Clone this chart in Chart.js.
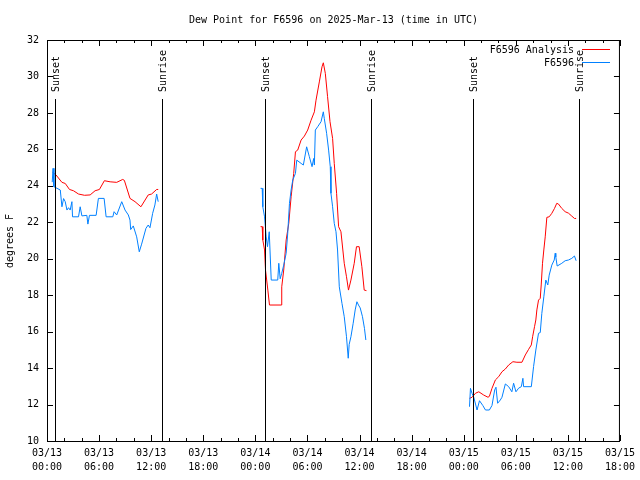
<!DOCTYPE html>
<html lang="en">
<head>
<meta charset="UTF-8">
<title>Dew Point for F6596</title>
<script src="https://cdn.jsdelivr.net/npm/chart.js"></script>
<style>
    body { margin: 0; background: #fff; }
    canvas { display: block; }
</style>
</head>
<body>
<canvas id="dewChart" width="640" height="480"></canvas>
<script>
// hours since 03/13 00:00 UTC; null dew point = gap in the line
const anaHours = [0.64, 1.03, 1.72, 2.10, 2.59, 3.05, 3.63, 4.32, 4.97, 5.54, 6.04, 6.61, 7.27, 8.03, 8.72, 8.91, 9.56, 10.14, 10.82, 11.66, 12.05, 12.63, 12.81,
    18,
    24.60, 24.79, 24.86, 25.06, 25.17, 25.44, 25.63, 26.97, 27.04, 27.27, 27.55, 27.85, 28.12, 28.42, 28.62, 28.88, 29.27, 29.65, 30.03, 30.42, 30.80, 30.99, 31.37, 31.68, 31.83, 32.06, 32.32, 32.60, 32.90, 33.09, 33.36, 33.59, 33.86, 34.24, 34.50, 34.73, 35.01, 35.39, 35.65, 35.96, 36.27, 36.54, 36.80,
    42,
    48.67, 48.97, 49.36, 49.74, 50.31, 50.80, 50.96, 51.26, 51.65, 52.03, 52.41, 52.80, 53.18, 53.67, 54.13, 54.71, 55.10, 55.48, 55.79, 55.94, 56.16, 56.31, 56.43, 56.62, 56.82, 56.93, 57.08, 57.23, 57.39, 57.58, 57.85, 58.15, 58.46, 58.72, 58.92, 59.30, 59.69, 60.07, 60.45, 60.76, 60.95];
const anaDew = [24.74, 24.6, 24.19, 24.13, 23.8, 23.73, 23.55, 23.48, 23.5, 23.73, 23.8, 24.28, 24.22, 24.19, 24.35, 24.3, 23.31, 23.13, 22.85, 23.5, 23.55, 23.8, 23.8,
    null,
    21.76, 21.76, 21.03, 20.48, 19.38, 18.28, 17.46, 17.46, 18.46, 19.38, 21.03, 21.94, 23.4, 24.68, 25.87, 25.96, 26.51, 26.73, 27.06, 27.6, 28.06, 28.7, 29.7, 30.53, 30.75, 30.17, 28.89, 27.52, 26.6, 25.23, 23.59, 21.76, 21.48, 19.75, 19.01, 18.28, 18.83, 19.75, 20.66, 20.66, 19.56, 18.28, 18.25,
    null,
    12.34, 12.4, 12.62, 12.7, 12.52, 12.4, 12.45, 12.89, 13.35, 13.53, 13.8, 13.95, 14.17, 14.35, 14.32, 14.32, 14.72, 15.03, 15.27, 15.72, 16.27, 16.64, 17.19, 17.73, 17.83, 18.56, 19.75, 20.48, 21.2, 22.27, 22.3, 22.49, 22.76, 23.04, 23.0, 22.76, 22.58, 22.5, 22.34, 22.21, 22.21];

const obsHours = [0.60, 0.70, 0.80, 1.53, 1.72, 1.91, 2.10, 2.30, 2.48, 2.67, 2.87, 2.94, 3.63, 3.82, 4.02, 4.59, 4.71, 4.89, 5.66, 5.92, 6.58, 6.81, 7.58, 7.73, 8.03, 8.61, 8.99, 9.37, 9.56, 9.64, 9.94, 10.33, 10.63, 10.90, 11.40, 11.66, 11.86, 12.17, 12.43, 12.63, 12.81,
    18,
    24.60, 24.79, 24.86, 25.06, 25.25, 25.40, 25.60, 25.83, 26.58, 26.70, 26.86, 27.04, 27.27, 27.55, 27.73, 27.93, 28.12, 28.31, 28.62, 28.77, 29.27, 29.53, 29.91, 30.22, 30.53, 30.72, 30.80, 30.91, 31.18, 31.57, 31.83, 31.94, 32.21, 32.44, 32.63, 32.71, 32.90, 33.09, 33.29, 33.47, 33.67, 33.98, 34.24, 34.50, 34.70, 34.81, 35.01, 35.27, 35.50, 35.70, 35.88, 36.08, 36.34, 36.57, 36.73,
    42,
    48.67, 48.78, 48.97, 49.16, 49.54, 49.82, 50.20, 50.51, 50.96, 51.26, 51.57, 51.72, 51.91, 52.22, 52.41, 52.80, 53.18, 53.55, 53.75, 54.02, 54.33, 54.64, 54.82, 54.90, 55.79, 56.05, 56.31, 56.62, 56.82, 57.00, 57.23, 57.46, 57.69, 57.85, 58.15, 58.43, 58.54, 58.61, 58.77, 59.30, 59.69, 60.07, 60.45, 60.76, 60.95];
const obsDew = [24.2, 24.96, 23.95, 23.77, 22.85, 23.3, 23.13, 22.67, 22.8, 22.67, 23.13, 22.3, 22.3, 22.85, 22.35, 22.38, 21.9, 22.38, 22.38, 23.31, 23.31, 22.3, 22.3, 22.58, 22.4, 23.13, 22.67, 22.4, 22.12, 21.6, 21.8, 21.2, 20.38, 20.8, 21.67, 21.85, 21.7, 22.49, 22.95, 23.55, 23.13,
    null,
    23.86, 23.86, 22.85, 22.3, 21.2, 20.66, 21.48, 18.83, 18.83, 19.75, 18.9, 19.2, 19.65, 20.3, 21.39, 23.04, 23.77, 24.32, 24.68, 25.41, 25.23, 25.14, 26.14, 25.6, 25.05, 25.5, 25.14, 27.06, 27.24, 27.52, 28.06, 27.7, 26.88, 25.96, 25.05, 23.59, 22.85, 21.94, 21.48, 20.48, 18.46, 17.55, 16.82, 15.72, 14.54, 15.3, 15.72, 16.46, 17.19, 17.64, 17.46, 17.3, 16.82, 16.18, 15.54,
    null,
    11.88, 12.89, 12.6, 12.4, 11.7, 12.21, 11.95, 11.7, 11.7, 11.95, 12.8, 12.95, 12.07, 12.25, 12.4, 13.13, 12.98, 12.7, 13.17, 12.7, 12.9, 12.98, 13.44, 12.98, 12.98, 14.08, 14.99, 15.91, 15.95, 17.0, 17.91, 18.83, 18.56, 19.1, 19.65, 19.93, 20.3, 20.1, 19.6, 19.75, 19.89, 19.93, 20.02, 20.15, 19.89];

const sunsetHours = [0.95, 25.1, 49.12];
const sunriseHours = [13.27, 37.3, 61.25];

const xTickDates = ['03/13', '03/13', '03/13', '03/13', '03/14', '03/14', '03/14', '03/14', '03/15', '03/15', '03/15', '03/15'];
const xTickTimes = ['00:00', '06:00', '12:00', '18:00', '00:00', '06:00', '12:00', '18:00', '00:00', '06:00', '12:00', '18:00'];

const FONT = '10px "DejaVu Sans Mono", monospace';

function toPoints(hours, vals) {
    return hours.map((h, i) => ({ x: h, y: vals[i] }));
}

// frame, inward ticks, title, legend, sun lines
const gnuplotLook = {
    id: 'gnuplotLook',
    afterDatasetsDraw(chart) {
        const ctx = chart.ctx;
        const a = chart.chartArea;
        const xs = chart.scales.x;
        const ys = chart.scales.y;
        ctx.save();
        ctx.strokeStyle = '#000';
        ctx.fillStyle = '#000';
        ctx.lineWidth = 1;
        ctx.font = FONT;

        // sunset / sunrise markers
        const marks = sunsetHours.map(h => [h, 'Sunset']).concat(sunriseHours.map(h => [h, 'Sunrise']));
        marks.forEach(([h, txt]) => {
            const px = Math.round(xs.getPixelForValue(h)) + 0.5;
            ctx.beginPath();
            ctx.moveTo(px, 99);
            ctx.lineTo(px, a.bottom);
            ctx.stroke();
            ctx.save();
            ctx.translate(px + 1, 92);
            ctx.rotate(-Math.PI / 2);
            ctx.textAlign = 'left';
            ctx.textBaseline = 'middle';
            ctx.fillText(txt, 0, 0);
            ctx.restore();
        });

        // border
        ctx.strokeRect(a.left + 0.5, a.top + 0.5, a.right - a.left - 1, a.bottom - a.top);

        // x ticks: major every 6h, minor every 2h
        ctx.beginPath();
        for (let h = 0; h <= 66; h += 2) {
            const px = Math.round(xs.getPixelForValue(h)) + 0.5;
            const len = h % 6 === 0 ? 6 : 3;
            ctx.moveTo(px, a.bottom);
            ctx.lineTo(px, a.bottom - len);
            ctx.moveTo(px, a.top);
            ctx.lineTo(px, a.top + len);
        }
        ys.ticks.forEach(t => {
            const py = Math.round(ys.getPixelForValue(t.value)) + 0.5;
            ctx.moveTo(a.left, py);
            ctx.lineTo(a.left + 6, py);
            ctx.moveTo(a.right, py);
            ctx.lineTo(a.right - 6, py);
        });
        ctx.stroke();

        // title
        ctx.textAlign = 'center';
        ctx.textBaseline = 'middle';
        ctx.fillText('Dew Point for F6596 on 2025-Mar-13 (time in UTC)', (a.left + a.right) / 2, 20);

        // y axis label
        ctx.save();
        ctx.translate(10, 241);
        ctx.rotate(-Math.PI / 2);
        ctx.fillText('degrees F', 0, 0);
        ctx.restore();

        // legend
        ctx.textAlign = 'right';
        chart.data.datasets.forEach((ds, i) => {
            const y = 50 + i * 13;
            ctx.fillStyle = '#000';
            ctx.fillText(ds.label, 574, y);
            ctx.strokeStyle = ds.borderColor;
            ctx.beginPath();
            ctx.moveTo(582, Math.round(y) - 0.5);
            ctx.lineTo(610, Math.round(y) - 0.5);
            ctx.stroke();
        });
        ctx.restore();
    }
};

new Chart(document.getElementById('dewChart'), {
    type: 'line',
    data: {
        datasets: [{
            label: 'F6596 Analysis',
            data: toPoints(anaHours, anaDew),
            borderColor: '#ff0000',
            borderWidth: 1,
            pointRadius: 0,
            tension: 0,
            spanGaps: false,
            order: 2
        }, {
            label: 'F6596',
            data: toPoints(obsHours, obsDew),
            borderColor: '#0080ff',
            borderWidth: 1,
            pointRadius: 0,
            tension: 0,
            spanGaps: false,
            order: 1
        }]
    },
    options: {
        responsive: false,
        animation: false,
        layout: { padding: { top: 40, right: 19, bottom: 0, left: 0 } },
        plugins: {
            legend: { display: false },
            title: { display: false },
            tooltip: { enabled: false }
        },
        scales: {
            x: {
                type: 'linear',
                min: 0,
                max: 66,
                grid: { display: false, drawTicks: false },
                border: { display: false },
                ticks: {
                    stepSize: 6,
                    autoSkip: false,
                    maxRotation: 0,
                    padding: 5,
                    color: '#000',
                    font: { family: '"DejaVu Sans Mono", monospace', size: 10, lineHeight: 1.4 },
                    callback: (v, i) => [xTickDates[i], xTickTimes[i]]
                },
                afterFit: s => { s.height = 39; }
            },
            y: {
                min: 10,
                max: 32,
                grid: { display: false, drawTicks: false },
                border: { display: false },
                ticks: {
                    stepSize: 2,
                    padding: 8,
                    color: '#000',
                    font: { family: '"DejaVu Sans Mono", monospace', size: 10 }
                },
                afterFit: s => { s.width = 47; }
            }
        }
    },
    plugins: [gnuplotLook]
});
</script>
</body>
</html>
